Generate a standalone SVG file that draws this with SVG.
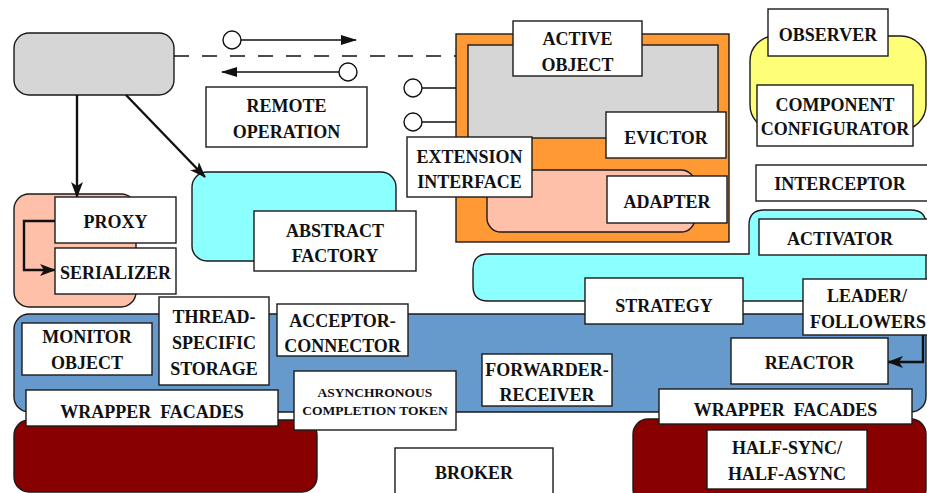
<svg xmlns="http://www.w3.org/2000/svg" width="927" height="493" viewBox="0 0 927 493">
  <style>
    .box { fill: #ffffff; stroke: #1a1a1a; stroke-width: 1.4; }
    .reg { stroke: #1a1a1a; stroke-width: 1.4; }
    .t { font-family: "Liberation Serif", "Times New Roman", serif; font-weight: bold; font-size: 18px; fill: #111; text-anchor: middle; white-space: pre; }
    .ts { font-size: 13.5px; }
    .ln { fill: none; stroke: #111; stroke-width: 1.4; }
    .thick { fill: none; stroke: #111; stroke-width: 2.4; }
    .lolly { fill: #ffffff; stroke: #111; stroke-width: 1.4; }
  </style>
  <defs>
    <marker id="head" markerUnits="userSpaceOnUse" markerWidth="16" markerHeight="10" refX="15" refY="5" orient="auto">
      <path d="M0,0 L16,5 L0,10 Z" fill="#111"/>
    </marker>
    <marker id="headBig" markerUnits="userSpaceOnUse" markerWidth="16" markerHeight="12" refX="15" refY="6" orient="auto">
      <path d="M0,0 L16,6 L0,12 L4,6 Z" fill="#111"/>
    </marker>
  </defs>

  <!-- background regions -->
  <g id="regions">
    <rect id="client" class="reg" x="14" y="33" width="160" height="62" rx="15" fill="#d6d6d6"/>
    <rect class="reg" x="14" y="194" width="122" height="113" rx="15" fill="#ffc0aa"/>
    <rect class="reg" x="192" y="172" width="204" height="89" rx="15" fill="#8cffff"/>
    <rect class="reg" x="750" y="36" width="176" height="94" rx="25" fill="#ffff77"/>
    <path class="reg" fill="#8cffff" d="M488,254 H749 V225 Q749,210 764,210 H911 Q926,210 926,225 V301 H488 Q473,301 473,286 V269 Q473,254 488,254 Z"/>
    <rect class="reg" x="14" y="314" width="912" height="98" rx="15" fill="#6699cc"/>
    <rect class="reg" x="14" y="420" width="303" height="72" rx="15" fill="#880000"/>
    <rect class="reg" x="633" y="419" width="293" height="85" rx="15" fill="#880000"/>
    <!-- active object container -->
    <rect class="reg" x="456" y="34" width="273" height="208" fill="#ff9933"/>
    <rect class="reg" x="468" y="45" width="250" height="93" fill="#d6d6d6"/>
    <rect class="reg" x="487" y="170" width="208" height="62" rx="14" fill="#ffc0aa"/>
  </g>

  <!-- connectors -->
  <g id="connectors">
    <line x1="174" y1="56" x2="456" y2="56" class="ln" stroke-dasharray="15,13"/>
    <line x1="241" y1="40" x2="356" y2="40" class="ln" marker-end="url(#head)"/>
    <line x1="339" y1="72" x2="222" y2="72" class="ln" marker-end="url(#head)"/>
    <circle class="lolly" cx="232" cy="40" r="9"/>
    <circle class="lolly" cx="348" cy="72" r="9"/>
    <line x1="422" y1="88" x2="456" y2="88" class="ln"/>
    <line x1="422" y1="122" x2="456" y2="122" class="ln"/>
    <circle class="lolly" cx="413" cy="88" r="9"/>
    <circle class="lolly" cx="413" cy="122" r="9"/>
    <line x1="77" y1="95" x2="77" y2="197" class="thick" marker-end="url(#headBig)"/>
    <line x1="126" y1="95" x2="205" y2="177" class="thick" marker-end="url(#headBig)"/>
    <polyline points="55,221 24,221 24,270 55,270" class="thick" marker-end="url(#headBig)"/>
    <polyline points="923,335 923,362 888,362" class="thick" marker-end="url(#headBig)"/>
  </g>

  <g id="remote-operation">
    <rect class="box" x="206" y="87" width="161" height="60"/>
    <text class="t" x="286.5" y="112">REMOTE</text>
    <text class="t" x="286.5" y="138">OPERATION</text>
  </g>
  <g id="active-object">
    <rect class="box" x="513" y="21" width="129" height="55"/>
    <text class="t" x="577.5" y="45">ACTIVE</text>
    <text class="t" x="577.5" y="71">OBJECT</text>
  </g>
  <g id="evictor">
    <rect class="box" x="606" y="112" width="120" height="46"/>
    <text class="t" x="666" y="144">EVICTOR</text>
  </g>
  <g id="extension-interface">
    <rect class="box" x="407" y="137" width="125" height="60"/>
    <text class="t" x="469.5" y="163">EXTENSION</text>
    <text class="t" x="469.5" y="188">INTERFACE</text>
  </g>
  <g id="adapter">
    <rect class="box" x="607" y="176" width="120" height="47"/>
    <text class="t" x="667" y="208">ADAPTER</text>
  </g>
  <g id="observer">
    <rect class="box" x="768" y="9" width="120" height="47"/>
    <text class="t" x="828" y="41">OBSERVER</text>
  </g>
  <g id="component-configurator">
    <rect class="box" x="757" y="85" width="156" height="61"/>
    <text class="t" x="835" y="111">COMPONENT</text>
    <text class="t" x="835" y="135">CONFIGURATOR</text>
  </g>
  <g id="interceptor">
    <rect class="box" x="756" y="165" width="180" height="36"/>
    <text class="t" x="840" y="190">INTERCEPTOR</text>
  </g>
  <g id="activator">
    <rect class="box" x="759" y="219" width="180" height="36"/>
    <text class="t" x="840" y="245">ACTIVATOR</text>
  </g>
  <g id="strategy">
    <rect class="box" x="585" y="278" width="158" height="46"/>
    <text class="t" x="664" y="312">STRATEGY</text>
  </g>
  <g id="leader-followers">
    <rect class="box" x="803" y="279" width="140" height="56"/>
    <text class="t" x="867" y="302">LEADER/</text>
    <text class="t" x="868" y="328">FOLLOWERS</text>
  </g>
  <g id="reactor">
    <rect class="box" x="731" y="338" width="157" height="46"/>
    <text class="t" x="809.5" y="369">REACTOR</text>
  </g>
  <g id="proxy">
    <rect class="box" x="55" y="197" width="121" height="46"/>
    <text class="t" x="115.5" y="228">PROXY</text>
  </g>
  <g id="serializer">
    <rect class="box" x="55" y="248" width="121" height="46"/>
    <text class="t" x="115.5" y="279">SERIALIZER</text>
  </g>
  <g id="abstract-factory">
    <rect class="box" x="254" y="211" width="162" height="60"/>
    <text class="t" x="335" y="237">ABSTRACT</text>
    <text class="t" x="335" y="262">FACTORY</text>
  </g>
  <g id="monitor-object">
    <rect class="box" x="22" y="323" width="130" height="52"/>
    <text class="t" x="87" y="343">MONITOR</text>
    <text class="t" x="87" y="369">OBJECT</text>
  </g>
  <g id="thread-specific-storage">
    <rect class="box" x="159" y="297" width="110" height="88"/>
    <text class="t" x="214" y="323">THREAD-</text>
    <text class="t" x="214" y="349">SPECIFIC</text>
    <text class="t" x="214" y="375">STORAGE</text>
  </g>
  <g id="acceptor-connector">
    <rect class="box" x="277" y="304" width="131" height="52"/>
    <text class="t" x="342.5" y="327">ACCEPTOR-</text>
    <text class="t" x="342.5" y="352">CONNECTOR</text>
  </g>
  <g id="wrapper-facades-left">
    <rect class="box" x="26" y="390" width="252" height="36"/>
    <text class="t" x="152" y="418">WRAPPER  FACADES</text>
  </g>
  <g id="asynchronous-completion-token">
    <rect class="box" x="294" y="371" width="162" height="59"/>
    <text class="t ts" x="375" y="397">ASYNCHRONOUS</text>
    <text class="t ts" x="375" y="415">COMPLETION TOKEN</text>
  </g>
  <g id="forwarder-receiver">
    <rect class="box" x="482" y="354" width="130" height="52"/>
    <text class="t" x="547" y="376">FORWARDER-</text>
    <text class="t" x="547" y="401">RECEIVER</text>
  </g>
  <g id="wrapper-facades-right">
    <rect class="box" x="659" y="389" width="253" height="35"/>
    <text class="t" x="785.5" y="416">WRAPPER  FACADES</text>
  </g>
  <g id="half-sync-half-async">
    <rect class="box" x="707" y="430" width="160" height="59"/>
    <text class="t" x="787" y="454">HALF-SYNC/</text>
    <text class="t" x="787" y="480">HALF-ASYNC</text>
  </g>
  <g id="broker">
    <rect class="box" x="395" y="448" width="158" height="60"/>
    <text class="t" x="474" y="479">BROKER</text>
  </g>
</svg>
